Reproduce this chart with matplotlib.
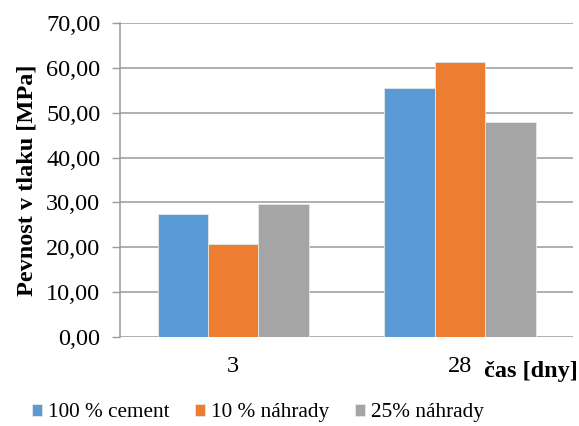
import numpy as np
import matplotlib.pyplot as plt

plt.rcParams['font.family'] = ['Liberation Serif', 'DejaVu Serif']

kategorie = ["3", "28"]
serie = ["100 % cement", "10 % náhrady", "25% náhrady"]
cement = [27.4, 55.4]
nahrady10 = [20.8, 61.2]
nahrady25 = [29.6, 47.9]
barvy = ["#5b9bd5", "#ed7d31", "#a5a5a5"]
fs = 17.5

fig = plt.figure(figsize=(5.79, 4.26), dpi=100)
ax = fig.add_axes([0.207, 0.209, 0.783, 0.737])

x = np.arange(len(kategorie))
w = 0.2226
for i, (vals, c, lab) in enumerate(zip([cement, nahrady10, nahrady25], barvy, serie)):
    ax.bar(x + (i - 1) * w, vals, w, color=c, label=lab, edgecolor="#e8e8e8",
           linewidth=0.6, zorder=3)

ax.set_xlim(-0.5, 1.5)
ax.set_ylim(0, 70)
ax.set_yticks(np.arange(0, 71, 10))
ax.set_yticklabels([f"{v:.2f}".replace(".", ",") for v in np.arange(0, 71, 10)], fontsize=fs)
ax.set_xticks(x)
ax.set_xticklabels(kategorie, fontsize=fs)
ax.tick_params(axis="y", length=6, width=1, color="#9a9a9a", pad=8)
ax.tick_params(axis="x", length=0, pad=14)
ax.yaxis.grid(True, color="#9a9a9a", linewidth=1.1, zorder=0)
for s in ax.spines.values():
    s.set_visible(False)
ax.spines["left"].set_visible(True)
ax.spines["left"].set_color("#9a9a9a")
ax.spines["left"].set_linewidth(1.1)

ax.set_ylabel("Pevnost v tlaku [MPa]", fontsize=fs, fontweight="bold", labelpad=6)
fig.text(0.997, 0.127, "čas [dny]", fontsize=17.5, fontweight="bold", ha="right", va="center")

fig.legend(loc="center left", bbox_to_anchor=(0.055, 0.031), ncol=3, frameon=False,
           fontsize=15.3, borderpad=0, borderaxespad=0,
           handlelength=0.47, handleheight=0.47, handletextpad=0.28, columnspacing=1.22)

fig.savefig("out.png", dpi=100)
